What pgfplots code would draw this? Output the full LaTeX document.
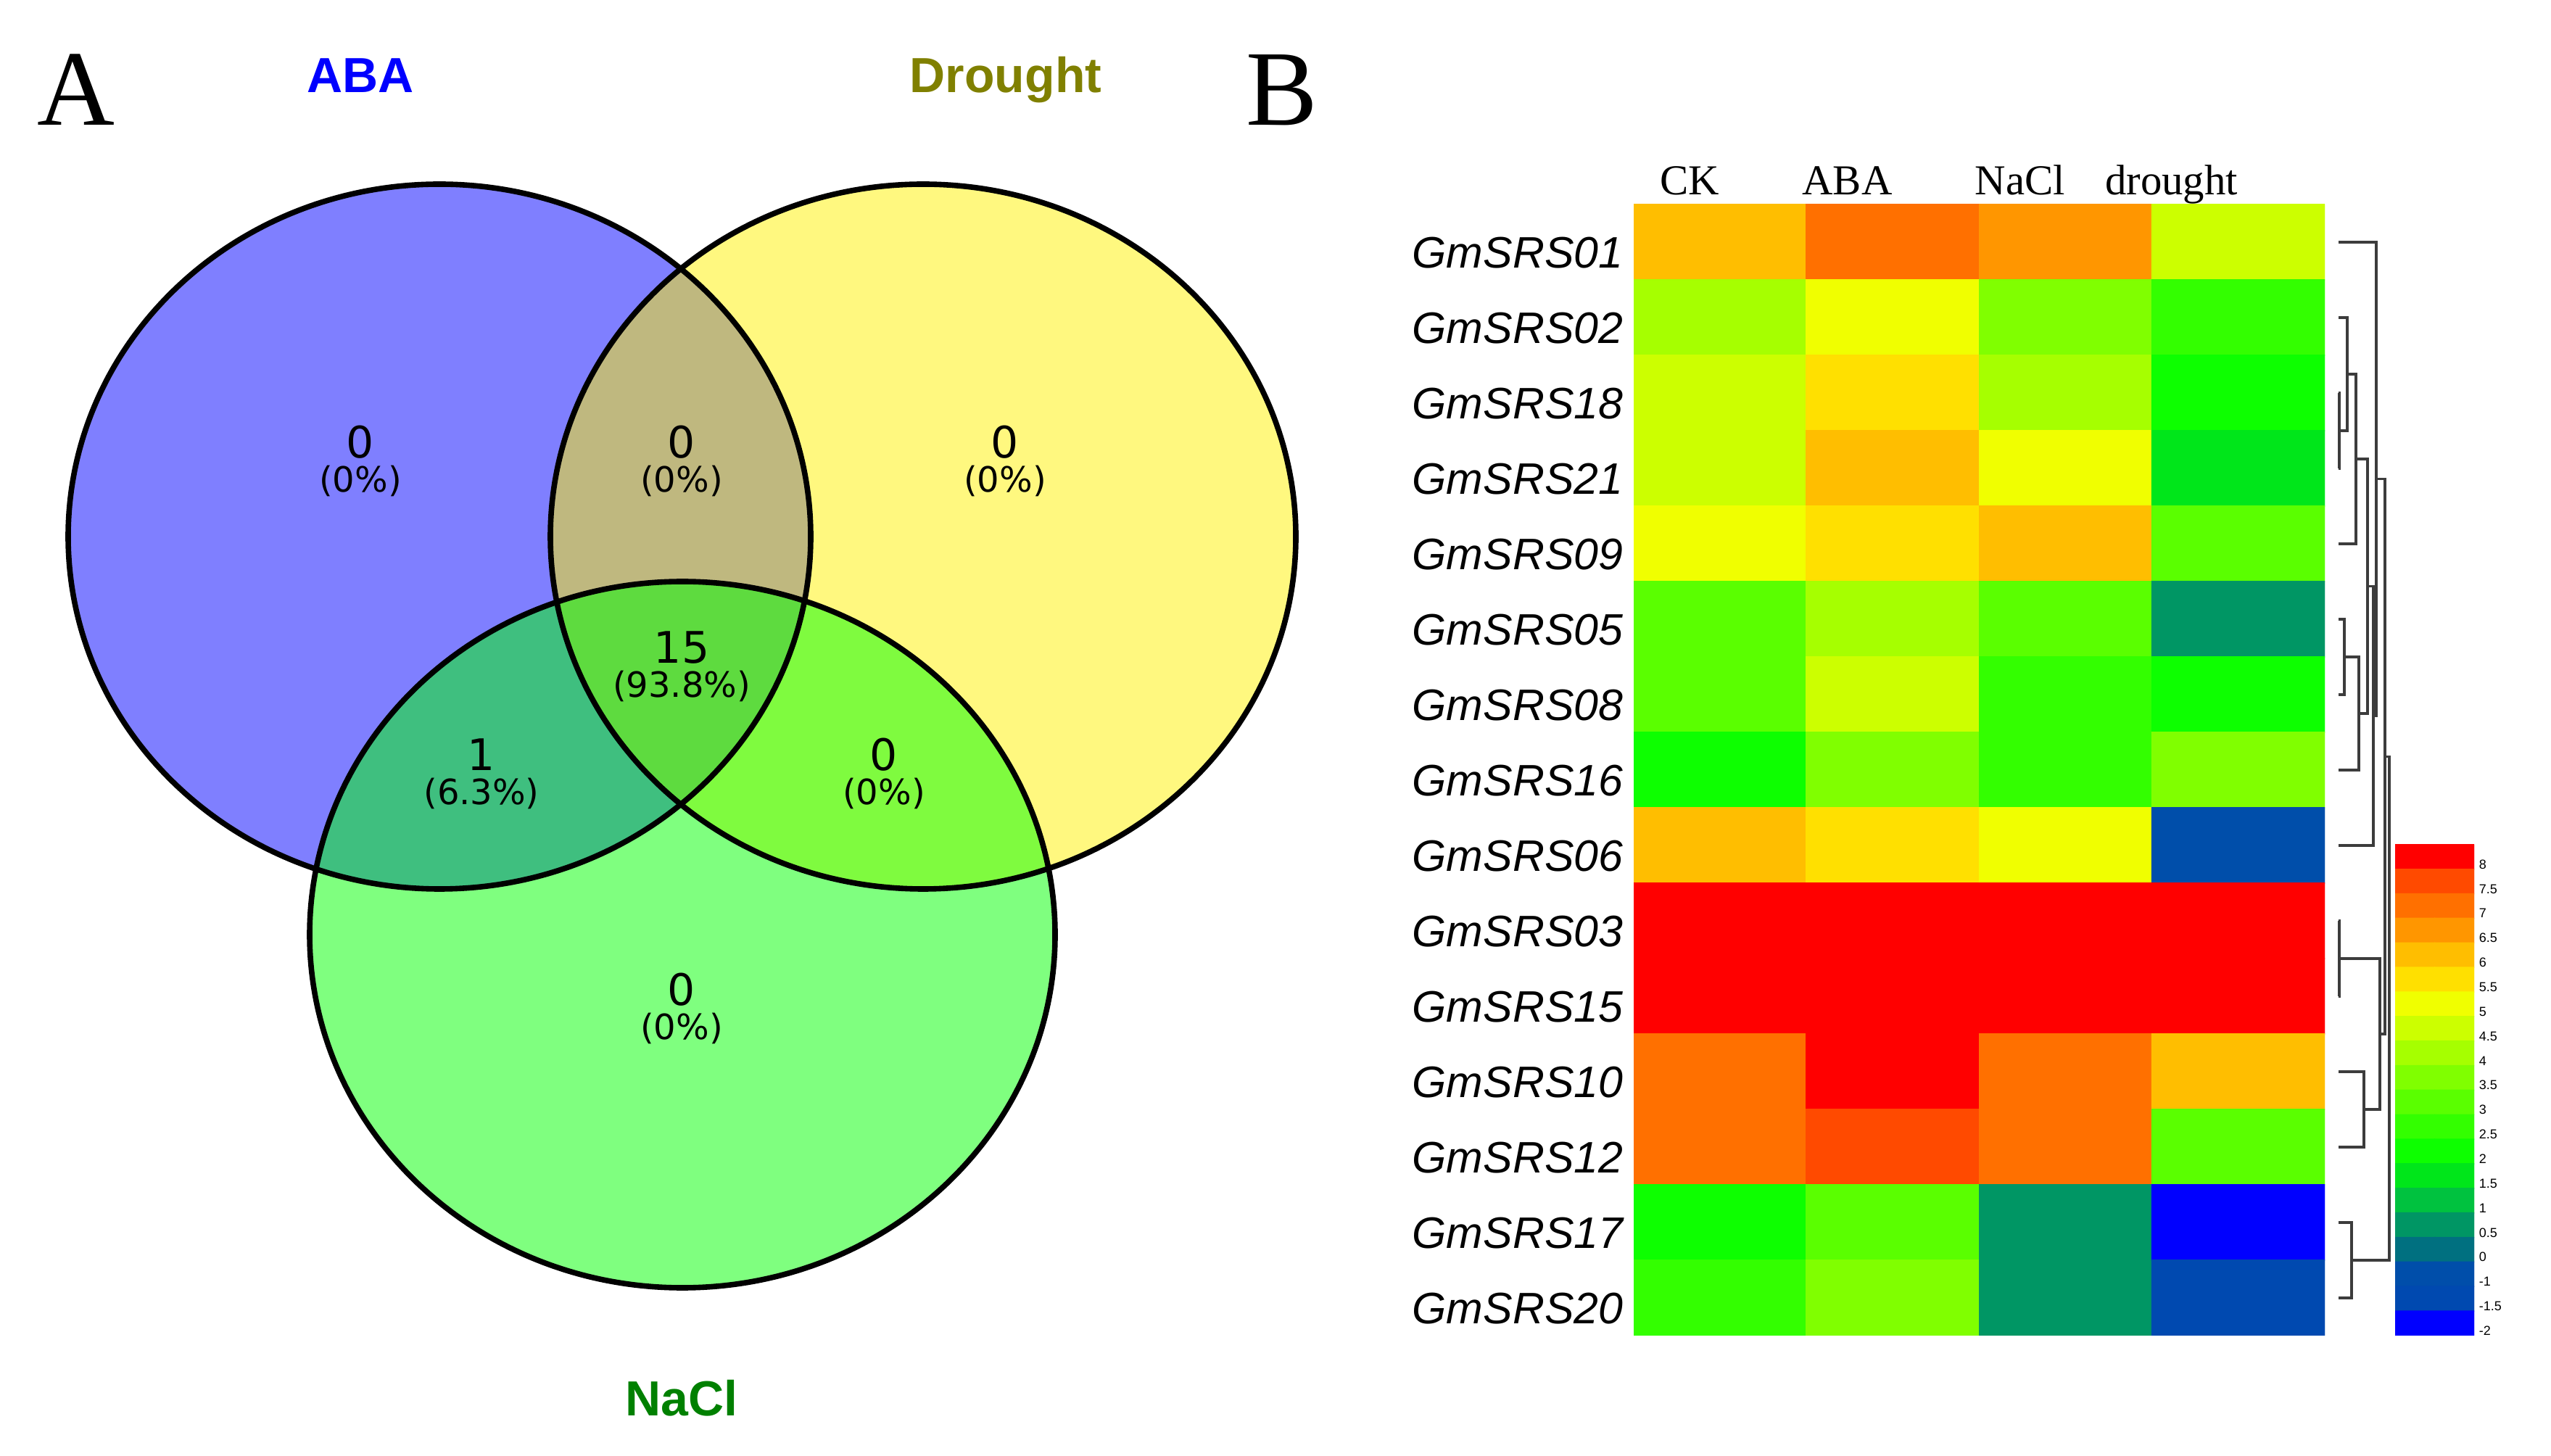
\documentclass[border=0pt]{standalone}
\usepackage{pgfplots}
\pgfplotsset{compat=1.18}
\usepackage{pgfplotstable}
\usepackage{fontspec}
\setmainfont{Liberation Serif}
\setsansfont{Liberation Sans}
\newfontfamily\dejavu{DejaVu Sans}

% colour levels 0..19 = -2,-1.5,-1,0,0.5,1,...,7.5,8
\pgfplotsset{colormap={srs}{
 rgb255=(0,0,255) rgb255=(0,73,176) rgb255=(0,78,170) rgb255=(0,112,128)
 rgb255=(0,150,100) rgb255=(0,194,63) rgb255=(0,230,26) rgb255=(13,255,0)
 rgb255=(51,255,0) rgb255=(90,255,0) rgb255=(128,255,0) rgb255=(166,255,0)
 rgb255=(204,255,0) rgb255=(240,255,0) rgb255=(255,224,0) rgb255=(255,190,0)
 rgb255=(255,150,0) rgb255=(255,112,0) rgb255=(255,74,0) rgb255=(255,0,0)}}

% heatmap: x = column (CK, ABA, NaCl, drought), y = 14 - row, c = colour level
\pgfplotstableread{
x y c
0 14 15
1 14 17
2 14 16
3 14 12
0 13 11
1 13 13
2 13 10
3 13 8
0 12 12
1 12 14
2 12 11
3 12 7
0 11 12
1 11 15
2 11 13
3 11 6
0 10 13
1 10 14
2 10 15
3 10 9
0 9 9
1 9 11
2 9 9
3 9 4
0 8 9
1 8 12
2 8 8
3 8 7
0 7 7
1 7 10
2 7 8
3 7 10
0 6 15
1 6 14
2 6 13
3 6 2
0 5 19
1 5 19
2 5 19
3 5 19
0 4 19
1 4 19
2 4 19
3 4 19
0 3 17
1 3 19
2 3 17
3 3 15
0 2 17
1 2 18
2 2 17
3 2 9
0 1 7
1 1 9
2 1 4
3 1 0
0 0 8
1 0 10
2 0 4
3 0 1
}\heat

\pgfplotstableread{
x y c
0 0 19
1 0 19
0 1 18
1 1 18
0 2 17
1 2 17
0 3 16
1 3 16
0 4 15
1 4 15
0 5 14
1 5 14
0 6 13
1 6 13
0 7 12
1 7 12
0 8 11
1 8 11
0 9 10
1 9 10
0 10 9
1 10 9
0 11 8
1 11 8
0 12 7
1 12 7
0 13 6
1 13 6
0 14 5
1 14 5
0 15 4
1 15 4
0 16 3
1 16 3
0 17 2
1 17 2
0 18 1
1 18 1
0 19 0
1 19 0
}\cbar

\begin{document}
\begin{tikzpicture}
\path (0pt,0pt) rectangle (879.5pt,502pt);

% ---------------- Venn diagram (panel A) ----------------
\begin{axis}[scale only axis, width=475pt, height=502pt, at={(0pt,0pt)}, anchor=south west,
  xmin=0, xmax=1900, ymin=0, ymax=2008, y dir=reverse, hide axis, clip=false]
\fill[blue, fill opacity=0.5] (axis cs:606,740) ellipse [x radius=128pt, y radius=121.5pt];
\fill[yellow, fill opacity=0.5] (axis cs:1273,740) ellipse [x radius=128.5pt, y radius=121.5pt];
\fill[green, fill opacity=0.5] (axis cs:941,1289) ellipse [x radius=128.5pt, y radius=121.75pt];
\draw[black, line width=1.9pt] (axis cs:606,740) ellipse [x radius=128pt, y radius=121.5pt];
\draw[black, line width=1.9pt] (axis cs:1273,740) ellipse [x radius=128.5pt, y radius=121.5pt];
\draw[black, line width=1.9pt] (axis cs:941,1289) ellipse [x radius=128.5pt, y radius=121.75pt];

\node[font=\fontsize{37}{37}\selectfont, anchor=base, inner sep=0pt] at (axis cs:105,173) {A};
\node[font=\fontsize{37}{37}\selectfont, anchor=base, inner sep=0pt] at (axis cs:1768,173) {B};

\node[font=\sffamily\bfseries\fontsize{17}{17}\selectfont, text=blue, anchor=base, inner sep=0pt] at (axis cs:497,128) {ABA};
\node[font=\sffamily\bfseries\fontsize{17}{17}\selectfont, text={rgb,255:red,128;green,128;blue,0}, anchor=base, inner sep=0pt] at (axis cs:1387,128) {Drought};
\node[font=\sffamily\bfseries\fontsize{17}{17}\selectfont, text={rgb,255:red,0;green,128;blue,0}, anchor=base, inner sep=0pt] at (axis cs:940,1952) {NaCl};

\tikzset{cnt/.style={font=\dejavu\fontsize{15}{15}\selectfont, inner sep=0pt},
         pct/.style={font=\dejavu\fontsize{12}{12}\selectfont, inner sep=0pt}}
\node[cnt] at (axis cs:497,610) {0};   \node[pct] at (axis cs:497,663) {(0\%)};
\node[cnt] at (axis cs:940,610) {0};   \node[pct] at (axis cs:940,663) {(0\%)};
\node[cnt] at (axis cs:1386,610) {0};  \node[pct] at (axis cs:1386,663) {(0\%)};
\node[cnt] at (axis cs:940,893) {15};  \node[pct] at (axis cs:940,946) {(93.8\%)};
\node[cnt] at (axis cs:664,1041) {1};  \node[pct] at (axis cs:664,1094) {(6.3\%)};
\node[cnt] at (axis cs:1219,1041) {0}; \node[pct] at (axis cs:1219,1094) {(0\%)};
\node[cnt] at (axis cs:940,1365) {0};  \node[pct] at (axis cs:940,1418) {(0\%)};
\end{axis}

% ---------------- Heatmap (panel B) ----------------
\begin{axis}[scale only axis, width=238.25pt, height=390pt, at={(563.25pt,41.5pt)}, anchor=south west,
  xmin=-0.5, xmax=3.5, ymin=-0.5, ymax=14.5, enlargelimits=false,
  axis line style={draw=none}, major tick length=0pt, tick style={draw=none},
  colormap name=srs,
  xtick={0,1,2,3}, xticklabels={CK,ABA,NaCl,drought}, xticklabel pos=upper,
  xticklabel style={font=\fontsize{14.7}{15}\selectfont, anchor=base east, inner sep=0pt, yshift=3.25pt},
  ytick={0,...,14},
  yticklabels={GmSRS20,GmSRS17,GmSRS12,GmSRS10,GmSRS15,GmSRS03,GmSRS06,GmSRS16,GmSRS08,GmSRS05,GmSRS09,GmSRS21,GmSRS18,GmSRS02,GmSRS01},
  yticklabel style={font=\sffamily\itshape\fontsize{15.2}{16}\selectfont, anchor=base east, inner sep=0pt, xshift=-3.5pt, yshift=-9pt}]
\addplot[matrix plot*, mesh/cols=4, point meta=explicit, colormap access=direct] table[x=x, y=y, meta=c]{\heat};
\end{axis}

% ---------------- Dendrogram ----------------
\begin{axis}[scale only axis, width=17.5pt, height=390pt, at={(806.25pt,41.5pt)}, anchor=south west,
  xmin=0, xmax=70, ymin=-0.5, ymax=14.5, y dir=reverse, hide axis, clip=false,
  dend/.style={draw={rgb,255:red,60;green,60;blue,60}, line width=0.8pt, mark=none, solid}]
\addplot[dend] coordinates {(0,2) (1,2) (1,3) (0,3)};
\addplot[dend] coordinates {(0,1) (12,1) (12,2.5) (1,2.5)};
\addplot[dend] coordinates {(12,1.75) (24,1.75) (24,4) (0,4)};
\addplot[dend] coordinates {(0,5) (8,5) (8,6) (0,6)};
\addplot[dend] coordinates {(8,5.5) (28,5.5) (28,7) (0,7)};
\addplot[dend] coordinates {(24,2.875) (40,2.875) (40,6.25) (28,6.25)};
\addplot[dend] coordinates {(40,4.5625) (48,4.5625) (48,8) (0,8)};
\addplot[dend] coordinates {(0,0) (52,0) (52,6.28) (48,6.28)};
\addplot[dend] coordinates {(0,9) (1,9) (1,10) (0,10)};
\addplot[dend] coordinates {(0,11) (35,11) (35,12) (0,12)};
\addplot[dend] coordinates {(1,9.5) (57,9.5) (57,11.5) (35,11.5)};
\addplot[dend] coordinates {(52,3.14) (64,3.14) (64,10.5) (57,10.5)};
\addplot[dend] coordinates {(0,13) (18,13) (18,14) (0,14)};
\addplot[dend] coordinates {(64,6.82) (70,6.82) (70,13.5) (18,13.5)};
\end{axis}

% ---------------- Colour key ----------------
\begin{axis}[scale only axis, width=27.25pt, height=169.25pt, at={(825.75pt,41.5pt)}, anchor=south west,
  xmin=-0.5, xmax=1.5, ymin=-0.5, ymax=19.5, y dir=reverse, enlargelimits=false,
  axis line style={draw=none}, major tick length=0pt, tick style={draw=none},
  colormap name=srs, xtick=\empty,
  ytick={0.3,1.3,2.3,3.3,4.3,5.3,6.3,7.3,8.3,9.3,10.3,11.3,12.3,13.3,14.3,15.3,16.3,17.3,18.3,19.3},
  yticklabels={8,7.5,7,6.5,6,5.5,5,4.5,4,3.5,3,2.5,2,1.5,1,0.5,0,-1,-1.5,-2},
  yticklabel pos=right,
  yticklabel style={font=\sffamily\fontsize{4.5}{5}\selectfont, anchor=west, inner sep=0pt, xshift=1.5pt}]
\addplot[matrix plot*, mesh/cols=2, point meta=explicit, colormap access=direct] table[x=x, y=y, meta=c]{\cbar};
\end{axis}
\end{tikzpicture}
\end{document}
